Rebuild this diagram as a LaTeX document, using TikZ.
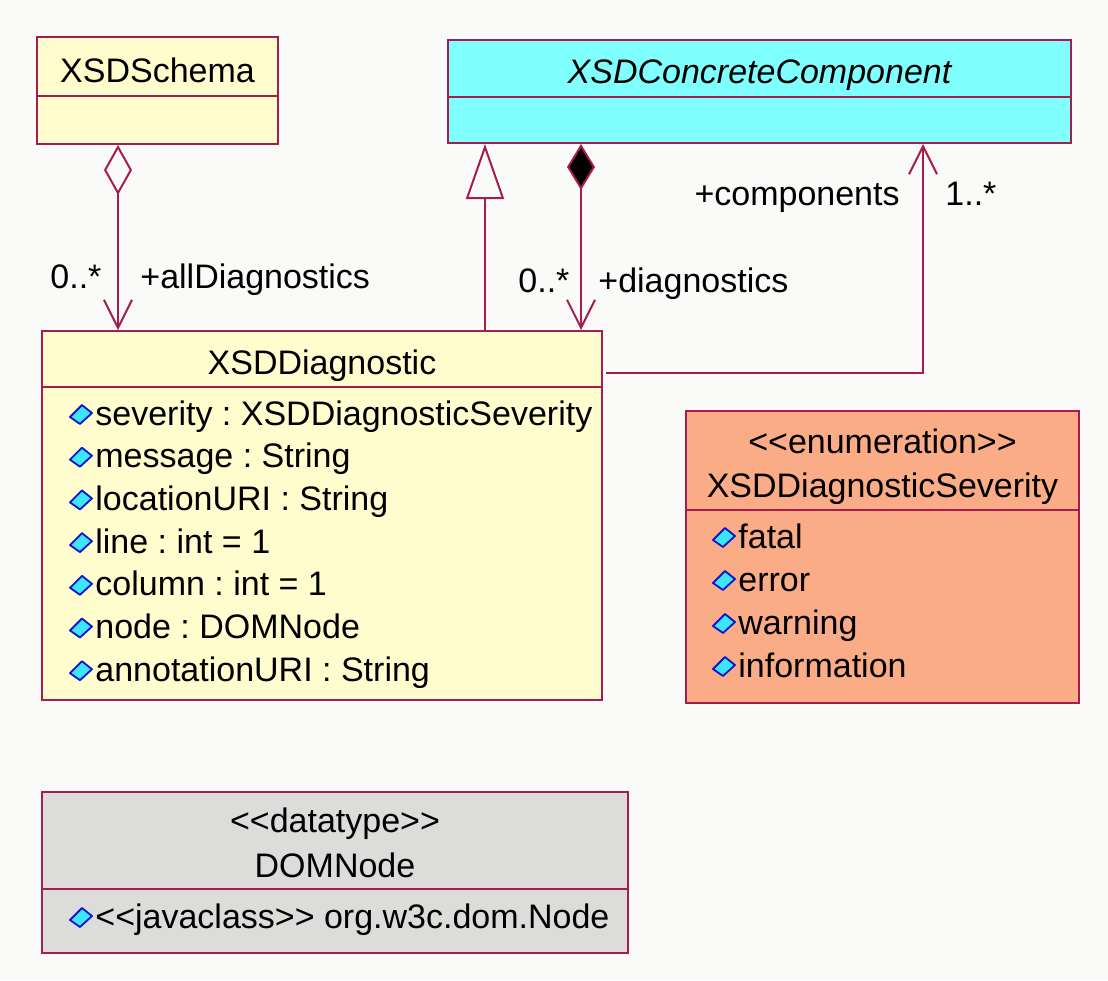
\documentclass[tikz,border=0pt]{standalone}
\usepackage{fontspec}
\setmainfont{Liberation Sans}
\usetikzlibrary{arrows.meta,fit}
\frenchspacing

\definecolor{umlline}{RGB}{165,28,78}
\definecolor{paper}{RGB}{250,250,248}
\definecolor{classfill}{RGB}{255,252,205}
\definecolor{abstractfill}{RGB}{128,255,255}
\definecolor{enumfill}{RGB}{250,172,135}
\definecolor{typefill}{RGB}{220,221,218}
\definecolor{iconblue}{RGB}{20,20,200}
\definecolor{iconcyan}{RGB}{60,230,250}

\tikzset{
  attricon/.pic={\filldraw[draw=iconblue,fill=iconcyan,line width=0.9pt,line join=round]
    (-11,3) -- (1,-9) -- (11,-1) -- (-1,10) -- cycle;}
}

\begin{document}
\begin{tikzpicture}[x=0.5pt,y=-0.5pt,font=\fontsize{17}{20}\selectfont,
  classbox/.style={draw=umlline,line width=1pt,inner sep=0pt},
  txt/.style={anchor=base,inner sep=0pt},
  attr/.style={anchor=base west,inner sep=0pt},
  link/.style={draw=umlline,line width=1pt},
  openhead/.style={-{Straight Barb[length=14pt,width=14pt]}}]

\fill[paper] (0,0) rectangle (1108,980);
\useasboundingbox (0,0) rectangle (1108,980);

% class boxes
\node[classbox,fill=classfill,fit={(37,37)(278,144)}]      (schema) {};
\node[classbox,fill=abstractfill,fit={(448,40)(1071,143)}] (comp)   {};
\node[classbox,fill=classfill,fit={(42,331)(602,700)}]     (diag)   {};
\node[classbox,fill=enumfill,fit={(686,411)(1079,703)}]    (sev)    {};
\node[classbox,fill=typefill,fit={(42,792)(628,953)}]      (dom)    {};

% compartments
\draw[link] (schema.west |- 0,96)  -- (schema.east |- 0,96);
\draw[link] (comp.west |- 0,97)    -- (comp.east |- 0,97);
\draw[link] (diag.west |- 0,387)   -- (diag.east |- 0,387);
\draw[link] (sev.west |- 0,510)    -- (sev.east |- 0,510);
\draw[link] (dom.west |- 0,889)    -- (dom.east |- 0,889);

% names
\node[txt] (schemaname) at (157.5,82) {XSDSchema};
\node[txt] (compname)   at (759.5,83) {\itshape XSDConcreteComponent};
\node[txt] (diagname)   at (322,374)  {XSDDiagnostic};
\node[txt] (sevtype)    at (882.5,453) {<{}<enumeration>{}>};
\node[txt] (sevname)    at (882.5,497) {XSDDiagnosticSeverity};
\node[txt] (domtype)    at (335,832)  {<{}<datatype>{}>};
\node[txt] (domname)    at (335,877)  {DOMNode};

% attributes
\foreach \a [count=\i from 0] in {severity : XSDDiagnosticSeverity,
    message : String, locationURI : String, line : int = 1,
    column : int = 1, node : DOMNode, annotationURI : String}{
  \pic at (81,414+42.7*\i) {attricon};
  \node[attr] (da\i) at (95,425+42.7*\i) {\a};
}
\foreach \a [count=\i from 0] in {fatal, error, warning, information}{
  \pic at (724,537+43*\i) {attricon};
  \node[attr] (sv\i) at (738,548+43*\i) {\a};
}
\pic at (81,917) {attricon};
\node[attr] (dm0) at (95,928) {<{}<javaclass>{}> org.w3c.dom.Node};

% relations
\draw[link,{Diamond[open,length=25pt,width=14pt]}-{Straight Barb[length=14pt,width=14pt]}]
  (schema.south -| 118,0) -- (diag.north -| 118,0);
\draw[link,-{Triangle[open,length=27.5pt,width=19pt]}]
  (diag.north -| 485,0) -- (comp.south -| 485,0);
\draw[link,{Diamond[length=23pt,width=14pt,fill=black]}-{Straight Barb[length=14pt,width=14pt]}]
  (comp.south -| 581,0) -- (diag.north -| 581,0);
\draw[link,openhead] ([xshift=1.5pt]diag.east |- 0,373) -| (comp.south -| 923,0);

% role names and multiplicities
\node[attr] (allmult)  at (50,288)  {0..*};
\node[attr] (allrole)  at (140,288) {+allDiagnostics};
\node[attr] (diagmult) at (518,292) {0..*};
\node[attr] (diagrole) at (598,292) {+diagnostics};
\node[txt,anchor=base east] (comprole) at (900,205) {+components};
\node[attr] (compmult) at (945,205) {1..*};

\end{tikzpicture}
\end{document}
